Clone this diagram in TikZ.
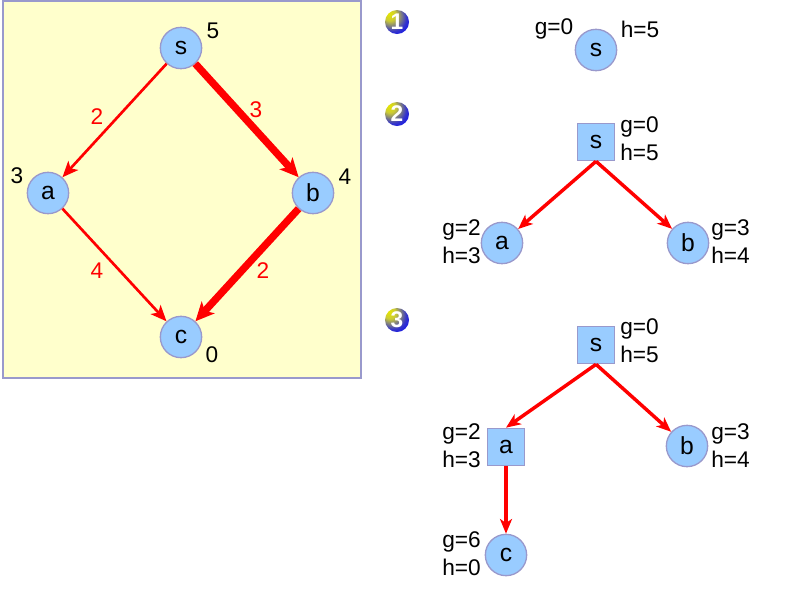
\documentclass[tikz,border=0pt]{standalone}
\usepackage{fontspec}
\setmainfont{Liberation Sans}
\usetikzlibrary{arrows.meta,shadings}
\definecolor{nodefill}{HTML}{99CCFF}
\definecolor{nodeedge}{HTML}{9999CC}
\definecolor{panelfill}{HTML}{FFFFCC}
\pgfdeclareradialshading{badgeball}{\pgfpoint{-18bp}{18bp}}{color(0bp)=(yellow!90!black); color(12bp)=(yellow!60!gray); color(30bp)=(blue!60!gray); color(45bp)=(blue); color(70bp)=(blue)}
\tikzset{
  x=0.75pt,y=-0.75pt,
  vtx/.style={circle,fill=nodefill,draw=nodeedge,line width=1pt,minimum size=31pt,inner sep=0pt,font=\fontsize{18.5}{20}\selectfont},
  sq/.style={rectangle,fill=nodefill,draw=nodeedge,line width=1pt,minimum size=28pt,inner sep=0pt,font=\fontsize{18.5}{20}\selectfont},
  lbl/.style={font=\fontsize{17}{19}\selectfont,inner sep=0pt},
  hlbl/.style={font=\fontsize{17}{21}\selectfont,inner sep=0pt,align=left},
  wlbl/.style={font=\fontsize{17}{19}\selectfont,inner sep=0pt,text=red},
  thin edge/.style={draw=red,line width=2pt,-{Stealth[length=12pt,width=10pt,inset=3pt]}},
  thick edge/.style={draw=red,line width=5.5pt,-{Stealth[length=14pt,width=13pt,inset=3.5pt]}},
  tree edge/.style={draw=red,line width=2.6pt,-{Stealth[length=11pt,width=9pt,inset=3pt]}},
  badge/.style={circle,minimum size=18pt,inner sep=0pt,shading=badgeball},
  badgenum/.style={inner sep=0pt,text=white,font=\bfseries\fontsize{17}{17}\selectfont}
}
\begin{document}
\begin{tikzpicture}
\useasboundingbox (0,0) rectangle (788,590);
% left panel
\draw[fill=panelfill,draw=nodeedge,line width=1.5pt] (3,1) rectangle (361,378);
\node[vtx] (s) at (181,48) {s};
\node[vtx] (a) at (48,193) {a};
\node[vtx] (b) at (313,193) {b};
\node[vtx] (c) at (181,337) {c};
\node[lbl] (s5) at (213,31) {5};
\node[lbl] (a3) at (17,176) {3};
\node[lbl] (b4) at (345,177) {4};
\node[lbl] (c0) at (212,355) {0};
\draw[thin edge] (s) -- (a);
\draw[thick edge] (s) -- (b);
\draw[thin edge] (a) -- (c);
\draw[thick edge] (b) -- (c);
\node[wlbl] (w1) at (97,117) {2};
\node[wlbl] (w2) at (256,110) {3};
\node[wlbl] (w3) at (97,271) {4};
\node[wlbl] (w4) at (263,271) {2};
% badges
\node[badge] (n1) at (397,22) {};
\node[badgenum] (n1t) at (n1) {1};
\node[badge] (n2) at (397,114) {};
\node[badgenum] (n2t) at (n2) {2};
\node[badge] (n3) at (397,320) {};
\node[badgenum] (n3t) at (n3) {3};
% panel 1
\node[vtx] (s1) at (596,50) {s};
\node[lbl] (g1) at (554,29) {g=0};
\node[lbl] (h1) at (640,29) {h=5};
% panel 2
\node[sq] (s2) at (596,142) {s};
\node[vtx] (a2) at (502,243) {a};
\node[vtx] (b2) at (688,243) {b};
\node[hlbl,anchor=west] (s2l) at (620,139) {g=0\\h=5};
\node[hlbl,anchor=east] (a2l) at (481,242) {g=2\\h=3};
\node[hlbl,anchor=west] (b2l) at (711,242) {g=3\\h=4};
\draw[tree edge] (s2.south) -- (a2);
\draw[tree edge] (s2.south) -- (b2);
% panel 3
\node[sq] (s3) at (596,345) {s};
\node[sq] (a3n) at (506,447) {a};
\node[vtx] (b3) at (687,446) {b};
\node[vtx] (c3) at (506,555) {c};
\node[hlbl,anchor=west] (s3l) at (620,341) {g=0\\h=5};
\node[hlbl,anchor=east] (a3l) at (481,446) {g=2\\h=3};
\node[hlbl,anchor=west] (b3l) at (711,446) {g=3\\h=4};
\node[hlbl,anchor=east] (c3l) at (481,554) {g=6\\h=0};
\draw[tree edge] (s3.south) -- (a3n.north);
\draw[tree edge] (s3.south) -- (b3);
\draw[tree edge] (a3n) -- (c3);
\end{tikzpicture}
\end{document}
